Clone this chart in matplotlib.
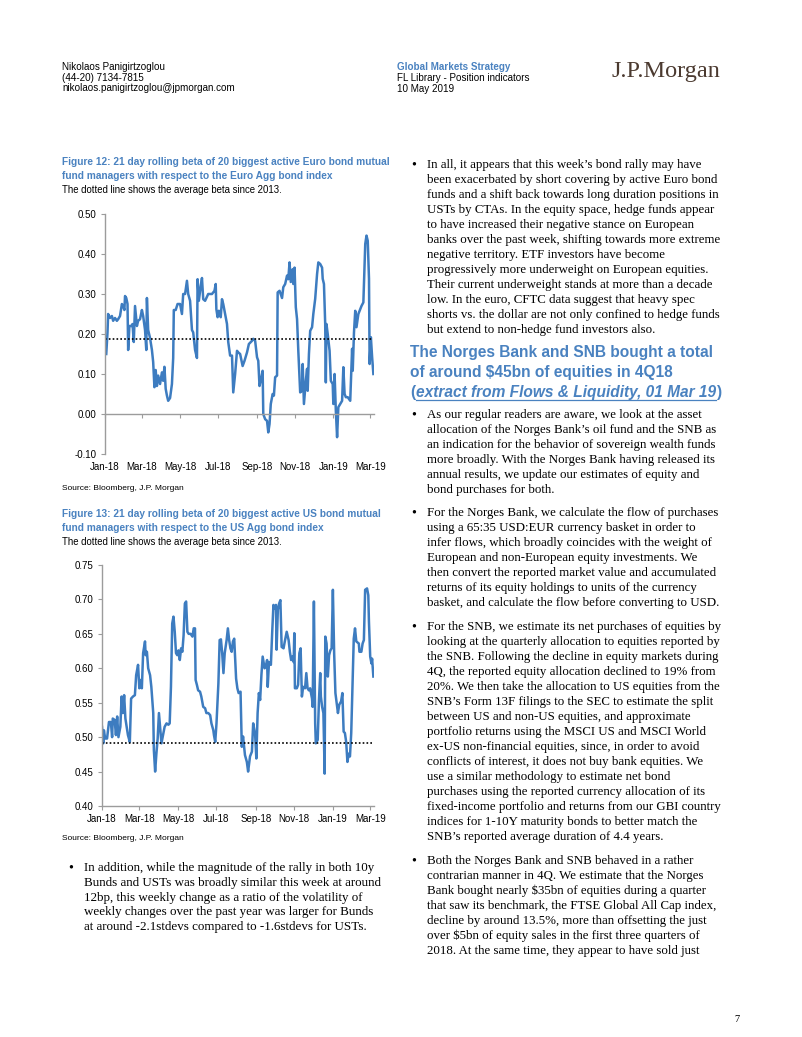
import matplotlib.pyplot as plt
import pandas as pd

# ---- data (days since 1 Jan 2018, beta) ----
euro_days = [2, 4, 5, 8, 11, 13, 16, 19, 21, 24, 27, 29, 31, 32, 34, 36, 37, 39, 42, 44,
             46, 48, 51, 53, 56, 59, 61, 64, 66, 67, 69, 72, 75, 77, 79, 81, 83, 85, 88, 91,
             93, 95, 97, 99, 101, 104, 107, 109, 110, 113, 116, 120, 123, 125, 128, 131, 133, 136, 139, 141,
             144, 147, 148, 150, 153, 155, 157, 160, 165, 171, 175, 177, 178, 180, 182, 185, 187, 189, 192, 195,
             197, 200, 203, 205, 208, 211, 213, 216, 220, 223, 227, 230, 235, 237, 240, 243, 245, 247, 250, 252,
             253, 256, 259, 261, 263, 265, 268, 270, 272, 275, 276, 279, 283, 285, 288, 291, 293, 295, 297, 300,
             301, 303, 305, 307, 309, 312, 315, 316, 318, 321, 323, 324, 326, 328, 331, 333, 336, 339, 341, 344,
             347, 348, 350, 352, 353, 354, 356, 359, 361, 364, 365, 367, 369, 371, 373, 376, 379, 381, 383, 385,
             388, 392, 395, 396, 398, 400, 402, 405, 410, 413, 416, 418, 420, 422, 423, 425, 427, 429]
euro_beta = [0.15, 0.204, 0.25, 0.24, 0.245, 0.233, 0.24, 0.233, 0.237, 0.245, 0.275, 0.27, 0.26, 0.295, 0.29, 0.275, 0.16, 0.22, 0.22, 0.225,
             0.18, 0.27, 0.22, 0.233, 0.237, 0.26, 0.245, 0.21, 0.16, 0.29, 0.21, 0.19, 0.16, 0.13, 0.067, 0.11, 0.07, 0.096, 0.075, 0.104,
             0.083, 0.118, 0.063, 0.046, 0.033, 0.04, 0.075, 0.14, 0.26, 0.26, 0.275, 0.275, 0.25, 0.30, 0.30, 0.333, 0.30, 0.283, 0.21, 0.204,
             0.16, 0.14, 0.337, 0.283, 0.32, 0.34, 0.287, 0.283, 0.30, 0.30, 0.308, 0.325, 0.262, 0.242, 0.258, 0.242, 0.287, 0.275, 0.25, 0.225,
             0.18, 0.146, 0.146, 0.054, 0.10, 0.158, 0.154, 0.15, 0.12, 0.133, 0.154, 0.175, 0.183, 0.188, 0.183, 0.142, 0.133, 0.07, 0.092, 0.108,
             0.00, -0.013, -0.017, -0.046, -0.025, 0.025, 0.05, 0.046, 0.092, 0.096, 0.304, 0.308, 0.29, 0.317, 0.325, 0.346, 0.337, 0.379, 0.33, 0.362,
             0.325, 0.366, 0.267, 0.237, 0.158, 0.054, 0.058, 0.125, 0.025, 0.083, 0.113, 0.058, 0.15, 0.208, 0.217, 0.25, 0.288, 0.35, 0.379, 0.375,
             0.366, 0.338, 0.325, 0.225, 0.079, 0.225, 0.20, 0.158, 0.083, 0.075, 0.025, 0.10, 0.008, -0.058, 0.017, 0.025, 0.033, 0.117, 0.05, 0.042,
             0.042, 0.033, 0.163, 0.108, 0.204, 0.258, 0.217, 0.25, 0.27, 0.279, 0.425, 0.446, 0.433, 0.338, 0.125, 0.192, 0.142, 0.10]

us_days = [0, 2, 3, 5, 8, 11, 14, 16, 17, 20, 22, 24, 26, 29, 31, 33, 35, 37, 39, 41,
           44, 46, 49, 52, 54, 57, 59, 61, 63, 65, 68, 69, 71, 73, 76, 78, 81, 82, 84, 86,
           88, 90, 92, 94, 97, 99, 102, 105, 107, 109, 111, 113, 115, 117, 119, 121, 123, 125, 127, 129,
           131, 133, 135, 137, 140, 143, 145, 147, 148, 150, 152, 155, 157, 160, 163, 165, 168, 171, 173, 176,
           177, 179, 181, 184, 186, 188, 190, 192, 194, 197, 199, 201, 203, 205, 207, 209, 212, 214, 216, 219,
           221, 223, 226, 229, 231, 234, 237, 239, 242, 244, 246, 248, 250, 252, 254, 257, 259, 261, 262, 264,
           267, 269, 271, 272, 275, 276, 278, 280, 282, 284, 287, 289, 292, 295, 297, 299, 301, 303, 304, 305,
           308, 310, 312, 314, 316, 318, 321, 323, 325, 327, 329, 332, 333, 335, 336, 337, 338, 341, 343, 345,
           346, 348, 350, 352, 353, 355, 357, 359, 361, 363, 365, 367, 369, 371, 373, 375, 378, 380, 382, 384,
           386, 388, 390, 392, 394, 396, 398, 400, 402, 406, 407, 410, 412, 414, 416, 419, 421, 422, 424, 426,
           427, 429]
us_beta = [0.515, 0.491, 0.51, 0.498, 0.498, 0.522, 0.522, 0.50, 0.527, 0.525, 0.503, 0.53, 0.50, 0.515, 0.559, 0.535, 0.561, 0.527, 0.515, 0.503,
           0.493, 0.556, 0.559, 0.561, 0.59, 0.605, 0.571, 0.583, 0.571, 0.622, 0.639, 0.619, 0.624, 0.60, 0.59, 0.573, 0.535, 0.481, 0.45, 0.476,
           0.498, 0.535, 0.513, 0.491, 0.505, 0.515, 0.52, 0.518, 0.52, 0.573, 0.665, 0.675, 0.653, 0.622, 0.619, 0.626, 0.612, 0.629, 0.624, 0.648,
           0.694, 0.697, 0.653, 0.65, 0.65, 0.646, 0.658, 0.658, 0.583, 0.576, 0.568, 0.566, 0.559, 0.544, 0.542, 0.535, 0.535, 0.532, 0.52, 0.51,
           0.503, 0.493, 0.52, 0.578, 0.641, 0.642, 0.622, 0.593, 0.622, 0.641, 0.658, 0.641, 0.629, 0.624, 0.639, 0.643, 0.585, 0.571, 0.564, 0.566,
           0.486, 0.501, 0.474, 0.464, 0.45, 0.472, 0.479, 0.52, 0.505, 0.469, 0.535, 0.564, 0.554, 0.59, 0.617, 0.60, 0.602, 0.612, 0.573, 0.609,
           0.605, 0.651, 0.692, 0.687, 0.692, 0.627, 0.685, 0.694, 0.699, 0.631, 0.629, 0.639, 0.653, 0.641, 0.624, 0.612, 0.617, 0.609, 0.651, 0.571,
           0.571, 0.576, 0.622, 0.629, 0.559, 0.573, 0.571, 0.593, 0.571, 0.568, 0.571, 0.556, 0.544, 0.697, 0.612, 0.52, 0.491, 0.496, 0.554, 0.593,
           0.559, 0.544, 0.535, 0.447, 0.646, 0.636, 0.588, 0.619, 0.626, 0.629, 0.714, 0.622, 0.564, 0.549, 0.535, 0.547, 0.552, 0.564, 0.508, 0.506,
           0.493, 0.464, 0.476, 0.472, 0.506, 0.573, 0.643, 0.658, 0.639, 0.636, 0.624, 0.624, 0.636, 0.641, 0.714, 0.716, 0.706, 0.668, 0.617, 0.607,
           0.614, 0.588]

euro_avg = 0.188
us_avg = 0.492

tick_dates = ['2018-01-01', '2018-03-01', '2018-05-01', '2018-07-01', '2018-09-01',
              '2018-11-01', '2019-01-01', '2019-03-01']
tick_labels = ['Jan-18', 'Mar-18', 'May-18', 'Jul-18', 'Sep-18', 'Nov-18', 'Jan-19', 'Mar-19']

# ---- page text ----
author = ['Nikolaos Panigirtzoglou', '(44-20) 7134-7815', 'nikolaos.panigirtzoglou@jpmorgan.com']

bullet_left = ['In addition, while the magnitude of the rally in both 10y',
               'Bunds and USTs was broadly similar this week at around',
               '12bp, this weekly change as a ratio of the volatility of',
               'weekly changes over the past year was larger for Bunds',
               'at around -2.1stdevs compared to -1.6stdevs for USTs.']

para1 = ['In all, it appears that this week\u2019s bond rally may have',
         'been exacerbated by short covering by active Euro bond',
         'funds and a shift back towards long duration positions in',
         'USTs by CTAs. In the equity space, hedge funds appear',
         'to have increased their negative stance on European',
         'banks over the past week, shifting towards more extreme',
         'negative territory. ETF investors have become',
         'progressively more underweight on European equities.',
         'Their current underweight stands at more than a decade',
         'low. In the euro, CFTC data suggest that heavy spec',
         'shorts vs. the dollar are not only confined to hedge funds',
         'but extend to non-hedge fund investors also.']

para2 = ['As our regular readers are aware, we look at the asset',
         'allocation of the Norges Bank\u2019s oil fund and the SNB as',
         'an indication for the behavior of sovereign wealth funds',
         'more broadly. With the Norges Bank having released its',
         'annual results, we update our estimates of equity and',
         'bond purchases for both.']

para3 = ['For the Norges Bank, we calculate the flow of purchases',
         'using a 65:35 USD:EUR currency basket in order to',
         'infer flows, which broadly coincides with the weight of',
         'European and non-European equity investments. We',
         'then convert the reported market value and accumulated',
         'returns of its equity holdings to units of the currency',
         'basket, and calculate the flow before converting to USD.']

para4 = ['For the SNB, we estimate its net purchases of equities by',
         'looking at the quarterly allocation to equities reported by',
         'the SNB. Following the decline in equity markets during',
         '4Q, the reported equity allocation declined to 19% from',
         '20%. We then take the allocation to US equities from the',
         'SNB\u2019s Form 13F filings to the SEC to estimate the split',
         'between US and non-US equities, and approximate',
         'portfolio returns using the MSCI US and MSCI World',
         'ex-US non-financial equities, since, in order to avoid',
         'conflicts of interest, it does not buy bank equities. We',
         'use a similar methodology to estimate net bond',
         'purchases using the reported currency allocation of its',
         'fixed-income portfolio and returns from our GBI country',
         'indices for 1-10Y maturity bonds to better match the',
         'SNB\u2019s reported average duration of 4.4 years.']

para5 = ['Both the Norges Bank and SNB behaved in a rather',
         'contrarian manner in 4Q. We estimate that the Norges',
         'Bank bought nearly $35bn of equities during a quarter',
         'that saw its benchmark, the FTSE Global All Cap index,',
         'decline by around 13.5%, more than offsetting the just',
         'over $5bn of equity sales in the first three quarters of',
         '2018. At the same time, they appear to have sold just']

W, H = 802, 1037
BLUE = '#4a82c0'
LINE = '#3d7cc0'
SANS = 'Liberation Sans'
SERIF = 'Liberation Serif'

fig = plt.figure(figsize=(W / 100, H / 100), dpi=100)
fig.patch.set_facecolor('white')
renderer = fig.canvas.get_renderer()


def put(x, y, s, **kw):
    kw.setdefault('family', SANS)
    kw.setdefault('va', 'center')
    return fig.text(x / W, 1 - y / H, s, **kw)


def right_edge(t):
    # pixel x of the right end of a text artist
    return t.get_window_extent(renderer).x1


def axes_px(left, top, right, bottom):
    return fig.add_axes([left / W, 1 - bottom / H, (right - left) / W, (bottom - top) / H])


def bullet(x, y0, lines, step=15.0, size=9.3):
    put(x - 16, y0, '\u2022', family=SERIF, fontsize=size + 1)
    for i, line in enumerate(lines):
        put(x, y0 + i * step, line, family=SERIF, fontsize=size)


# header
for i, s in enumerate(author):
    put(62, 67 + i * 10.7, s, fontsize=7.1)
put(397, 67, 'Global Markets Strategy', fontsize=7.1, color=BLUE, weight='bold')
put(397, 78, 'FL Library - Position indicators', fontsize=7.1)
put(397, 89, '10 May 2019', fontsize=7.1)
put(611, 72, 'J.P.Morgan', family=SERIF, fontsize=17.5, color='#4b3a30')

start = pd.Timestamp('2018-01-01')
tick_pos = [(pd.Timestamp(d) - start).days for d in tick_dates]


def chart(ax, days, beta, avg, ylim, step, zero_axis):
    ax.plot(days, beta, color=LINE, lw=1.8, solid_joinstyle='round')
    ax.hlines(avg, 0, days[-1] - 2, colors='black', linestyles=(0, (1, 1.3)), lw=1.2)
    ax.set_xlim(0, 430)
    ax.set_ylim(*ylim)
    yt = [round(ylim[0] + i * step, 2) for i in range(int(round((ylim[1] - ylim[0]) / step)) + 1)]
    ax.set_yticks(yt)
    ax.set_yticklabels([f'{v:.2f}' for v in yt], family=SANS, fontsize=7)
    ax.set_xticks(tick_pos)
    ax.set_xticklabels([])
    for sp in ['top', 'right']:
        ax.spines[sp].set_visible(False)
    for sp in ['left', 'bottom']:
        ax.spines[sp].set_color('#9c9c9c')
        ax.spines[sp].set_linewidth(1.0)
    if zero_axis:
        ax.spines['bottom'].set_position(('data', 0))
    ax.tick_params(axis='both', colors='#9c9c9c', length=3, width=0.8, labelcolor='black', pad=3)
    for p, lab in zip(tick_pos, tick_labels):
        ax.text(p, -0.055, lab, transform=ax.get_xaxis_transform(), ha='center', va='center',
                family=SANS, fontsize=7)
    ax.patch.set_alpha(0)


# figure 12
put(62, 162, 'Figure 12: 21 day rolling beta of 20 biggest active Euro bond mutual', fontsize=7.3,
    color=BLUE, weight='bold')
put(62, 176, 'fund managers with respect to the Euro Agg bond index', fontsize=7.3, color=BLUE, weight='bold')
put(62, 190, 'The dotted line shows the average beta since 2013.', fontsize=6.9)
ax1 = axes_px(105, 214, 374, 454)
chart(ax1, euro_days, euro_beta, euro_avg, (-0.10, 0.50), 0.10, True)
put(62, 489, 'Source: Bloomberg, J.P. Morgan', fontsize=6)

# figure 13
put(62, 514, 'Figure 13: 21 day rolling beta of 20 biggest active US bond mutual', fontsize=7.3,
    color=BLUE, weight='bold')
put(62, 528, 'fund managers with respect to the US Agg bond index', fontsize=7.3, color=BLUE, weight='bold')
put(62, 542, 'The dotted line shows the average beta since 2013.', fontsize=6.9)
ax2 = axes_px(102, 565, 374, 806)
chart(ax2, us_days, us_beta, us_avg, (0.40, 0.75), 0.05, False)
put(62, 838, 'Source: Bloomberg, J.P. Morgan', fontsize=6)

# left column text
bullet(84, 868, bullet_left, step=14.8, size=9.4)

# right column text
bullet(427, 165, para1)
HS = 11.2
put(410, 352, 'The Norges Bank and SNB bought a total', fontsize=HS, color=BLUE, weight='bold')
put(410, 372, 'of around $45bn of equities in 4Q18', fontsize=HS, color=BLUE, weight='bold')
t = put(410, 392, '(', fontsize=HS, color=BLUE, weight='bold')
x0 = right_edge(t) + 0.5
t = put(x0, 392, 'extract from Flows & Liquidity, 01 Mar 19', fontsize=HS, color=BLUE, weight='bold',
        style='italic')
x1 = right_edge(t)
fig.add_artist(plt.Line2D([x0 / W, x1 / W], [1 - 399.5 / H, 1 - 399.5 / H], color=BLUE, lw=0.9))
put(x1 + 0.5, 392, ')', fontsize=HS, color=BLUE, weight='bold')
bullet(427, 415, para2)
bullet(427, 513, para3)
bullet(427, 627, para4)
bullet(427, 861, para5)

put(734, 1020, '7', family=SERIF, fontsize=7.5)

fig.savefig('out.png', dpi=100)
